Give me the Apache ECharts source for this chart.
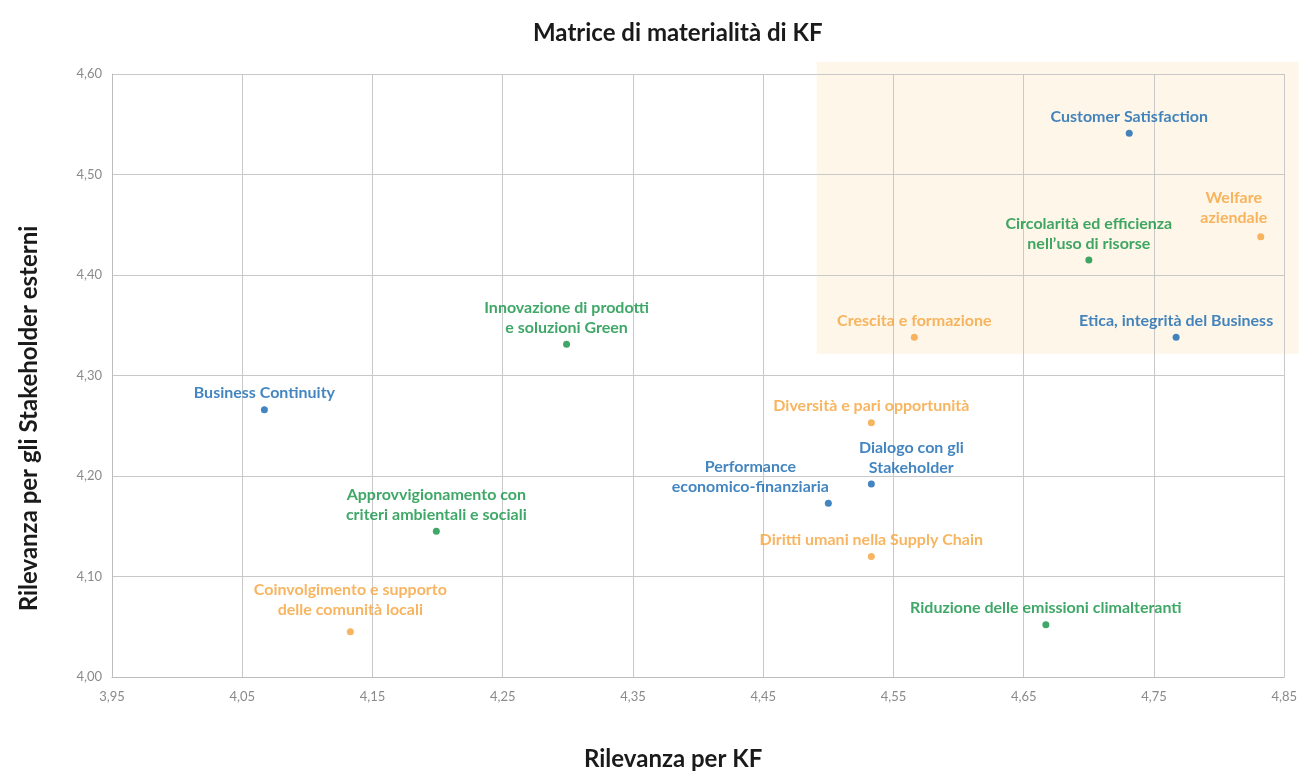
<!DOCTYPE html>
<html><head><meta charset="utf-8">
<script src="https://cdn.jsdelivr.net/npm/echarts@6/dist/echarts.min.js"></script>
<style>html,body{margin:0;padding:0;background:#fff;overflow:hidden}#c{width:1300px;height:776px}</style>
</head><body><div id="c"></div>
<script>
const topics = ["Customer Satisfaction","Welfare\naziendale","Circolarità ed efficienza\nnell’uso di risorse","Etica, integrità del Business","Crescita e formazione","Innovazione di prodotti\ne soluzioni Green","Business Continuity","Diversità e pari opportunità","Dialogo con gli\nStakeholder","Performance\neconomico-finanziaria","Approvvigionamento con\ncriteri ambientali e sociali","Diritti umani nella Supply Chain","Coinvolgimento e supporto\ndelle comunità locali","Riduzione delle emissioni climalteranti"];
const rilevanzaKF = [4.731,4.832,4.700,4.767,4.566,4.299,4.067,4.533,4.533,4.500,4.199,4.533,4.133,4.667];
const rilevanzaStakeholder = [4.541,4.438,4.415,4.338,4.338,4.331,4.266,4.253,4.192,4.173,4.145,4.120,4.045,4.052];
const groups = ["blue","orange","green","blue","orange","green","blue","orange","blue","blue","green","orange","orange","green"];
const xTicks = ["3,95","4,05","4,15","4,25","4,35","4,45","4,55","4,65","4,75","4,85"];
const yTicks = ["4,00","4,10","4,20","4,30","4,40","4,50","4,60"];
const highlightArea = {x1: 4.491, x2: 4.861, y1: 4.612, y2: 4.3216};

const palette = {blue:"#1466b0", green:"#0f9141", orange:"#f5a33a"};
const labelOffsets = {1:[-27,-2], 8:[40,0], 9:[-78,0], 12:[0,-5]};

const data = topics.map((t,i)=>({
  name:t, value:[rilevanzaKF[i], rilevanzaStakeholder[i]],
  itemStyle:{color:palette[groups[i]]},
  label:{color:palette[groups[i]], offset: labelOffsets[i]||[0,0]}
}));

const chart = echarts.init(document.getElementById('c'));
const font = 'Lato, "Noto Sans", sans-serif';
chart.setOption({
  animation:false,
  title:{text:"Matrice di materialità di KF", left:528, top:16,
    textStyle:{fontFamily:font, fontSize:24, fontWeight:'bold', color:'#1a1a1a'}},
  grid:{left:112, top:74, width:1177, height:612},
  xAxis:{type:'value', min:3.95, max:4.85, interval:0.1,
    name:"Rilevanza per KF", nameLocation:'middle', nameGap:70,
    nameTextStyle:{fontFamily:font, fontSize:24, fontWeight:'bold', color:'#1a1a1a', padding:[0,50,0,0]},
    axisLine:{show:true, lineStyle:{color:'#bdbdbd'}}, axisTick:{show:false},
    axisLabel:{fontFamily:font, fontSize:13, color:'#8a8a8a', margin:13,
      formatter:(v)=>{const k=Math.round((v-3.95)/0.1); return xTicks[k]!==undefined?xTicks[k]:'';}},
    splitLine:{show:true, lineStyle:{color:'#c8c8c8'}}},
  yAxis:{type:'value', min:4.0, max:4.6, interval:0.1,
    name:"Rilevanza per gli Stakeholder esterni", nameLocation:'middle', nameGap:71,
    nameTextStyle:{fontFamily:font, fontSize:24, fontWeight:'bold', color:'#1a1a1a', padding:[0,86,0,0]},
    axisLine:{show:true, lineStyle:{color:'#bdbdbd'}}, axisTick:{show:false},
    axisLabel:{fontFamily:font, fontSize:13, color:'#8a8a8a', margin:10,
      formatter:(v)=>{const k=Math.round((v-4.0)/0.1); return yTicks[k]!==undefined?yTicks[k]:'';}},
    splitLine:{show:true, lineStyle:{color:'#c8c8c8'}}},
  series:[{type:'scatter', symbolSize:7, data:data, z:3,
    label:{show:true, position:'top', distance:3, formatter:'{b}', align:'center',
      fontFamily:font, fontSize:16, fontWeight:'bold', lineHeight:20}}]
});
const p1 = chart.convertToPixel({gridIndex:0},[highlightArea.x1, highlightArea.y1]);
const p2 = chart.convertToPixel({gridIndex:0},[highlightArea.x2, highlightArea.y2]);
chart.setOption({graphic:[{type:'rect', z:-10, silent:true,
  shape:{x:p1[0], y:p1[1], width:p2[0]-p1[0], height:p2[1]-p1[1]},
  style:{fill:'#fef6e8'}}]});
</script></body></html>
